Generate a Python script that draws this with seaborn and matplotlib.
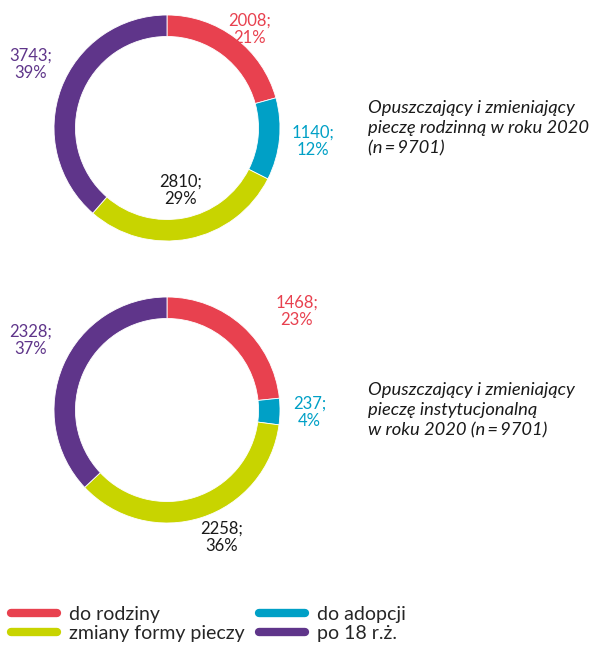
import matplotlib
matplotlib.use("Agg")
from matplotlib import pyplot as plt
from matplotlib.lines import Line2D
import seaborn as sns

# data
categories = ["do rodziny", "do adopcji", "zmiany formy pieczy", "po 18 r.ż."]
family_care = [2008, 1140, 2810, 3743]
institutional_care = [1468, 237, 2258, 2328]
titles = ["Opuszczający i zmieniający\npieczę rodzinną w roku 2020\n(n\u2009=\u20099701)",
          "Opuszczający i zmieniający\npieczę instytucjonalną\nw roku 2020 (n\u2009=\u20099701)"]

colors = ["#E8414F", "#00A0C6", "#C8D400", "#5F358A"]
label_colors = ["#E8414F", "#00A0C6", "#1a1a1a", "#5F358A"]

# label placement (in units of donut radius)
top_label_pos = [(0.73, 0.87), (1.29, -0.12), (0.12, -0.55), (-1.21, 0.56)]
bottom_label_pos = [(1.15, 0.87), (1.26, -0.02), (0.48, -1.13), (-1.21, 0.62)]

sns.set_theme(style="white")
plt.rcParams["font.family"] = ["Lato", "DejaVu Sans"]

W, H = 594, 645
fig = plt.figure(figsize=(W / 100, H / 100), dpi=100)
fig.patch.set_facecolor("white")

R = 113


def donut(cx, cy, values, label_pos, title, title_y):
    ax = fig.add_axes([(cx - R) / W, (H - cy - R) / H, 2 * R / W, 2 * R / H])
    ax.pie(values, colors=colors, startangle=90, counterclock=False, radius=1,
           wedgeprops=dict(width=0.19, edgecolor="white", linewidth=0.6))
    ax.set_xlim(-1, 1)
    ax.set_ylim(-1, 1)
    ax.set_aspect("equal")
    ax.axis("off")
    total = sum(values)
    for v, (x, y), c in zip(values, label_pos, label_colors):
        pct = round(100 * v / total)
        ax.text(x, y, f"{v};\n{pct}%", color=c, fontsize=12, ha="center",
                va="center", linespacing=1.1, clip_on=False)
    fig.text(368 / W, 1 - title_y / H, title, fontsize=13.2, style="italic",
             color="#1a1a1a", ha="left", va="center", linespacing=1.3)


donut(167, 128, family_care, top_label_pos, titles[0], 128)
donut(167, 410, institutional_care, bottom_label_pos, titles[1], 410)

order = [0, 2, 1, 3]
handles = [Line2D([0], [0], color=colors[i], lw=6, solid_capstyle="round") for i in order]
labels = [categories[i] for i in order]
fig.legend(handles, labels, loc="upper left", bbox_to_anchor=(11 / W, 1 - 606 / H),
           ncol=2, frameon=False, fontsize=14, handlelength=2.35,
           handletextpad=0.65, columnspacing=0.72, labelspacing=0.1,
           borderaxespad=0, borderpad=0)

plt.savefig("out.png", dpi=100)
